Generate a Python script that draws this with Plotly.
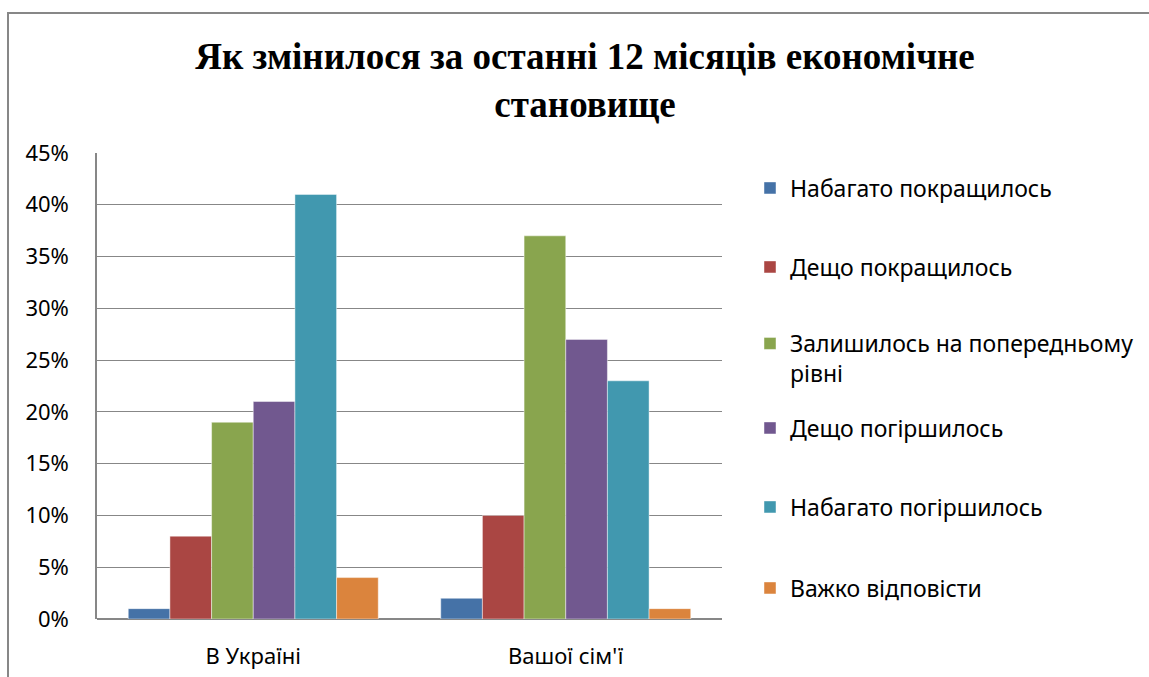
import plotly.graph_objects as go

categories = ["В Україні", "Вашої сім'ї"]
series_names = [
    "Набагато покращилось",
    "Дещо покращилось",
    "Залишилось на попередньому<br>рівні",
    "Дещо погіршилось",
    "Набагато погіршилось",
    "Важко відповісти",
]
values_ukraine = [0.01, 0.08, 0.19, 0.21, 0.41, 0.04]
values_family = [0.02, 0.10, 0.37, 0.27, 0.23, 0.01]
colors = ["#4572A7", "#AA4643", "#89A54E", "#71588F", "#4198AF", "#DB843D"]
y_ticks = [0, 0.05, 0.10, 0.15, 0.20, 0.25, 0.30, 0.35, 0.40, 0.45]

W, H = 1149, 677
L, R, T, B = 97, 722, 153, 619
pw, ph = R - L, B - T


def px_to_py(ypx):
    return (B - ypx) / ph


def px_to_px(xpx):
    return (xpx - L) / pw


legend_centers = [188, 267, 358.5, 428, 507, 588]

fig = go.Figure()
layout_legends = {}
for i, name in enumerate(series_names):
    key = "legend" if i == 0 else f"legend{i+1}"
    fig.add_trace(go.Bar(
        x=categories,
        y=[values_ukraine[i], values_family[i]],
        name=name,
        marker=dict(color=colors[i], line=dict(color="rgba(255,255,255,0.45)", width=1)),
        legend=key,
        hoverinfo="x+y+name",
    ))
    layout_legends[key] = dict(
        x=px_to_px(750), xanchor="left",
        y=px_to_py(legend_centers[i]), yanchor="middle",
        bgcolor="rgba(0,0,0,0)",
        font=dict(family="Noto Sans", size=23, color="#000000"),
        valign="top",
        itemclick=False, itemdoubleclick=False,
    )

fig.update_layout(
    width=W, height=H,
    margin=dict(l=L, r=W - R, t=T, b=H - B, pad=0, autoexpand=False),
    paper_bgcolor="white",
    plot_bgcolor="white",
    barmode="group",
    bargap=0.2,
    bargroupgap=0,
    showlegend=True,
    title=dict(
        text="Як змінилося за останні 12 місяців економічне<br>становище",
        x=585 / W, xanchor="center", xref="container",
        y=1 - 69 / H, yanchor="top", yref="container",
        font=dict(family="Liberation Serif", size=37, color="#000000", weight="bold"),
    ),
    xaxis=dict(
        showgrid=False, showline=False,
        tickfont=dict(family="Noto Sans", size=22, color="#000000"),
        ticks="", ticklabelstandoff=22,
    ),
    yaxis=dict(
        range=[0, 0.45], tickvals=y_ticks, tickformat=".0%",
        showgrid=True, gridcolor="#878787", gridwidth=1.3,
        showline=True, linecolor="#878787", linewidth=1.5,
        zeroline=True, zerolinecolor="#878787", zerolinewidth=2,
        tickfont=dict(family="Noto Sans", size=22, color="#000000"),
        ticks="", ticklabelstandoff=22,
    ),
    shapes=[dict(
        type="rect", xref="paper", yref="paper",
        x0=px_to_px(8), x1=px_to_px(1200), y0=px_to_py(720), y1=px_to_py(13),
        line=dict(color="#878787", width=2), fillcolor="rgba(0,0,0,0)", layer="below",
    )],
    **layout_legends,
)

fig.write_html(
    "out.html",
    config={"displayModeBar": False},
    post_script="document.body.style.margin='0';document.body.style.overflow='hidden';",
)
